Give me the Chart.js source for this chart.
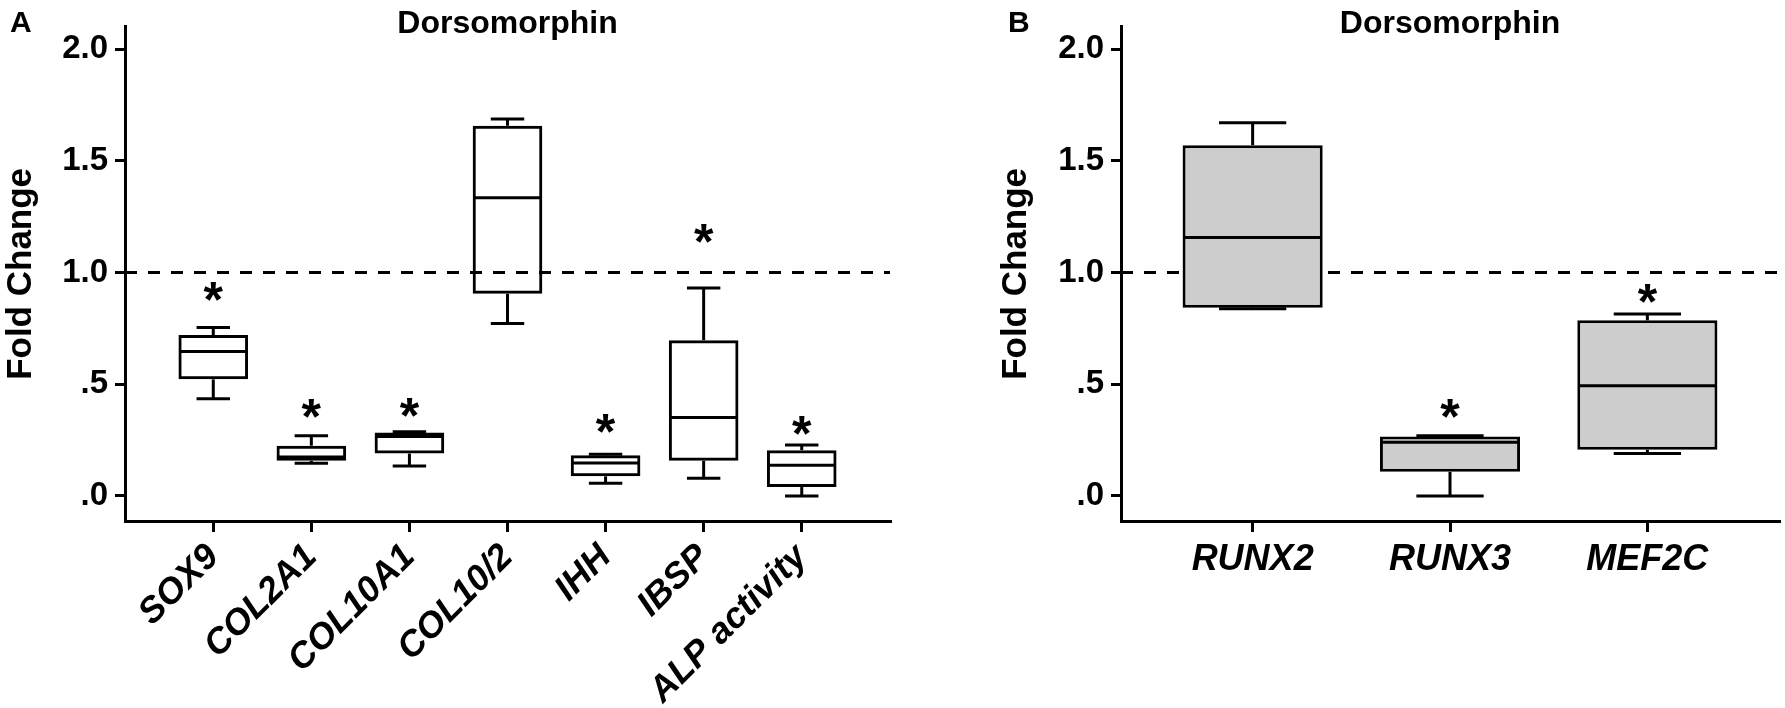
<!DOCTYPE html>
<html lang="en">
<head>
    <meta charset="UTF-8">
    <title>Dorsomorphin - Fold Change</title>
    <script src="https://cdn.jsdelivr.net/npm/chart.js"></script>
    <style>
        body { margin: 0; background: #fff; }
        #wrap { position: relative; width: 1785px; height: 708px; }
        canvas { position: absolute; top: 0; }
        #chartA { left: 0; }
        #chartB { left: 995px; }
    </style>
</head>
<body>
<div id="wrap">
    <canvas id="chartA" width="900" height="708"></canvas>
    <canvas id="chartB" width="790" height="708"></canvas>
</div>
<script>
    // y axis (shared by both panels)
    const yTickVals = [0, 0.5, 1, 1.5, 2];
    const yTickLabels = ['.0', '.5', '1.0', '1.5', '2.0'];
    const refLine = 1.0;

    // panel A
    const catsA = ['SOX9', 'COL2A1', 'COL10A1', 'COL10/2', 'IHH', 'IBSP', 'ALP activity'];
    const minA = [0.435, 0.147, 0.134, 0.772, 0.057, 0.079, 0.000];
    const q1A  = [0.522, 0.158, 0.190, 0.905, 0.088, 0.158, 0.040];
    const medA = [0.647, 0.175, 0.266, 1.335, 0.148, 0.351, 0.137];
    const q3A  = [0.720, 0.225, 0.284, 1.657, 0.182, 0.697, 0.205];
    const maxA = [0.754, 0.270, 0.287, 1.687, 0.187, 0.931, 0.228];
    const starA = [0.914, 0.390, 0.397, null, 0.323, 1.177, 0.316];

    // panel B
    const catsB = ['RUNX2', 'RUNX3', 'MEF2C'];
    const minB = [0.838, 0.000, 0.190];
    const q1B  = [0.843, 0.108, 0.207];
    const medB = [1.157, 0.241, 0.493];
    const q3B  = [1.570, 0.266, 0.786];
    const maxB = [1.671, 0.270, 0.815];
    const starB = [null, 0.392, 0.905];

    const FONT = "'Liberation Sans', Arial, sans-serif";

    function line(ctx, x1, y1, x2, y2) {
        ctx.beginPath();
        ctx.moveTo(x1, y1);
        ctx.lineTo(x2, y2);
        ctx.stroke();
    }

    // whiskers, medians, asterisks, reference line and panel text
    function boxPlugin(s) {
        return {
            id: 'boxExtras',
            beforeDatasetsDraw(chart) {
                const { ctx, chartArea, scales: { y } } = chart;
                const yy = y.getPixelForValue(refLine);
                ctx.save();
                ctx.strokeStyle = '#000';
                ctx.lineWidth = 3;
                ctx.setLineDash([12, 11]);
                line(ctx, chartArea.left, yy, chartArea.right, yy);
                ctx.restore();
            },
            afterDatasetsDraw(chart) {
                const { ctx, scales: { x, y } } = chart;
                const bars = chart.getDatasetMeta(0).data;
                ctx.save();
                ctx.strokeStyle = '#000';
                ctx.lineWidth = 3;
                bars.forEach((bar, i) => {
                    const cx = x.getPixelForValue(i);
                    const half = bar.width / 2 - 1;
                    const cap = bar.width * 0.48 / 2;
                    const yMin = y.getPixelForValue(s.min[i]);
                    const yQ1 = y.getPixelForValue(s.q1[i]);
                    const yMed = y.getPixelForValue(s.med[i]);
                    const yQ3 = y.getPixelForValue(s.q3[i]);
                    const yMax = y.getPixelForValue(s.max[i]);
                    line(ctx, cx, yQ3, cx, yMax);
                    line(ctx, cx - cap, yMax, cx + cap, yMax);
                    line(ctx, cx, yQ1, cx, yMin);
                    line(ctx, cx - cap, yMin, cx + cap, yMin);
                    line(ctx, cx - half, yMed, cx + half, yMed);
                });
                // significance marks
                ctx.fillStyle = '#000';
                ctx.font = 'bold 50px ' + FONT;
                ctx.textAlign = 'center';
                ctx.textBaseline = 'alphabetic';
                const m = ctx.measureText('*');
                const shift = (m.actualBoundingBoxAscent - m.actualBoundingBoxDescent) / 2;
                s.star.forEach((v, i) => {
                    if (v === null) return;
                    ctx.fillText('*', x.getPixelForValue(i), y.getPixelForValue(v) + shift);
                });
                ctx.restore();
            },
            afterDraw(chart) {
                const { ctx, chartArea } = chart;
                ctx.save();
                ctx.fillStyle = '#000';
                ctx.textBaseline = 'alphabetic';
                ctx.font = 'bold 32px ' + FONT;
                ctx.textAlign = 'center';
                ctx.fillText(s.title, (chartArea.left + chartArea.right) / 2, 33);
                ctx.font = 'bold 30px ' + FONT;
                ctx.textAlign = 'left';
                ctx.fillText(s.letter, s.letterX, 32);
                ctx.restore();
            }
        };
    }

    function drawPanel(id, cats, s, o) {
        new Chart(document.getElementById(id), {
            type: 'bar',
            data: {
                datasets: [{
                    data: cats.map((c, i) => ({ x: i, y: [s.q1[i], s.q3[i]] })),
                    backgroundColor: o.fill,
                    borderColor: '#000',
                    borderWidth: 3,
                    borderSkipped: false,
                    barPercentage: 0.71,
                    categoryPercentage: 1
                }]
            },
            options: {
                responsive: false,
                animation: false,
                devicePixelRatio: 1,
                layout: { padding: { top: 8, right: o.padRight, left: 0, bottom: 0 } },
                plugins: { legend: { display: false }, tooltip: { enabled: false } },
                scales: {
                    x: {
                        type: 'linear',
                        min: o.xMin,
                        max: o.xMax,
                        offset: false,
                        afterBuildTicks: sc => { sc.ticks = cats.map((c, i) => ({ value: i })); },
                        afterFit: sc => { sc.height = 187; },
                        ticks: {
                            callback: v => cats[v],
                            autoSkip: false,
                            minRotation: o.rot,
                            maxRotation: o.rot,
                            padding: o.labelPad,
                            color: '#000',
                            font: { family: FONT, size: o.labelSize, weight: 'bold', style: 'italic' }
                        },
                        grid: { offset: false, drawOnChartArea: false, drawTicks: true, tickLength: 11, lineWidth: 3, color: '#000' },
                        border: { display: true, width: 3, color: '#000' }
                    },
                    y: {
                        min: -0.112,
                        max: 2.1,
                        afterBuildTicks: sc => { sc.ticks = yTickVals.map(v => ({ value: v })); },
                        afterFit: sc => { sc.width = o.yWidth; },
                        ticks: {
                            callback: v => yTickLabels[yTickVals.indexOf(v)],
                            padding: 7,
                            color: '#000',
                            font: { family: FONT, size: 33, weight: 'bold' }
                        },
                        grid: { drawOnChartArea: false, drawTicks: true, tickLength: 10, lineWidth: 3, color: '#000' },
                        border: { display: true, width: 3, color: '#000' },
                        title: {
                            display: true,
                            text: 'Fold Change',
                            color: '#000',
                            padding: 0,
                            font: { family: FONT, size: 35, weight: 'bold' }
                        }
                    }
                }
            },
            plugins: [boxPlugin(s)]
        });
    }

    drawPanel('chartA', catsA,
        { min: minA, q1: q1A, med: medA, q3: q3A, max: maxA, star: starA, title: 'Dorsomorphin', letter: 'A', letterX: 10 },
        { fill: 'rgba(0,0,0,0)', xMin: -0.9, xMax: 6.9, rot: 45, labelSize: 36, labelPad: 4, yWidth: 125, padRight: 10 });

    drawPanel('chartB', catsB,
        { min: minB, q1: q1B, med: medB, q3: q3B, max: maxB, star: starB, title: 'Dorsomorphin', letter: 'B', letterX: 13 },
        { fill: '#cdcdcd', xMin: -0.667, xMax: 2.667, rot: 0, labelSize: 36, labelPad: 6, yWidth: 126, padRight: 6 });
</script>
</body>
</html>
